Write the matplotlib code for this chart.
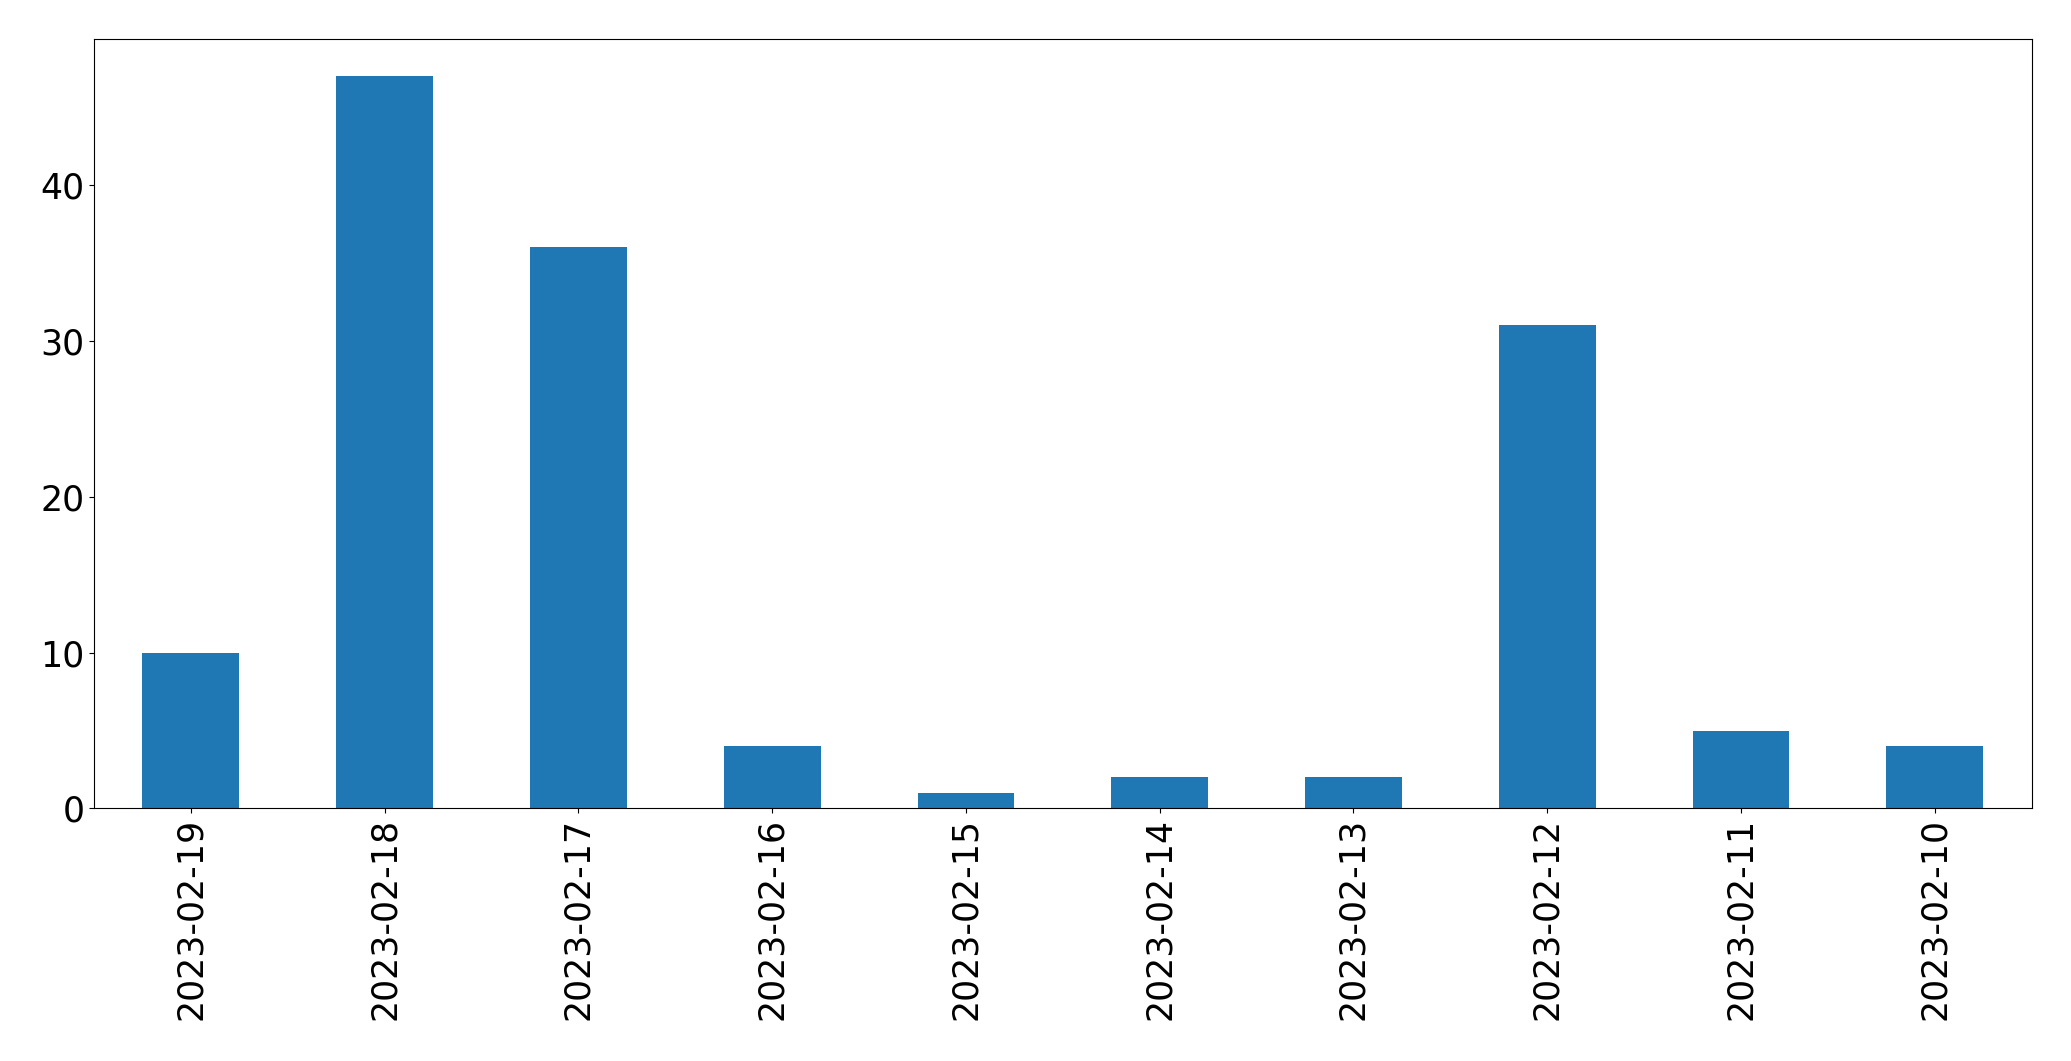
import matplotlib
matplotlib.use("Agg")
import matplotlib.pyplot as plt

dates = ["2023-02-19", "2023-02-18", "2023-02-17", "2023-02-16", "2023-02-15",
         "2023-02-14", "2023-02-13", "2023-02-12", "2023-02-11", "2023-02-10"]
counts = [10, 47, 36, 4, 1, 2, 2, 31, 5, 4]

fig, ax = plt.subplots(figsize=(20.71, 10.61), dpi=100)
ax.bar(range(len(dates)), counts, width=0.5, color="#1f77b4")
ax.set_xticks(range(len(dates)))
ax.set_xticklabels(dates, rotation=90)
ax.set_xlim(-0.5, len(dates) - 0.5)
ax.tick_params(labelsize=25)
plt.subplots_adjust(left=0.0454, right=0.981, top=0.963, bottom=0.238)
fig.savefig("out.png", dpi=100)
